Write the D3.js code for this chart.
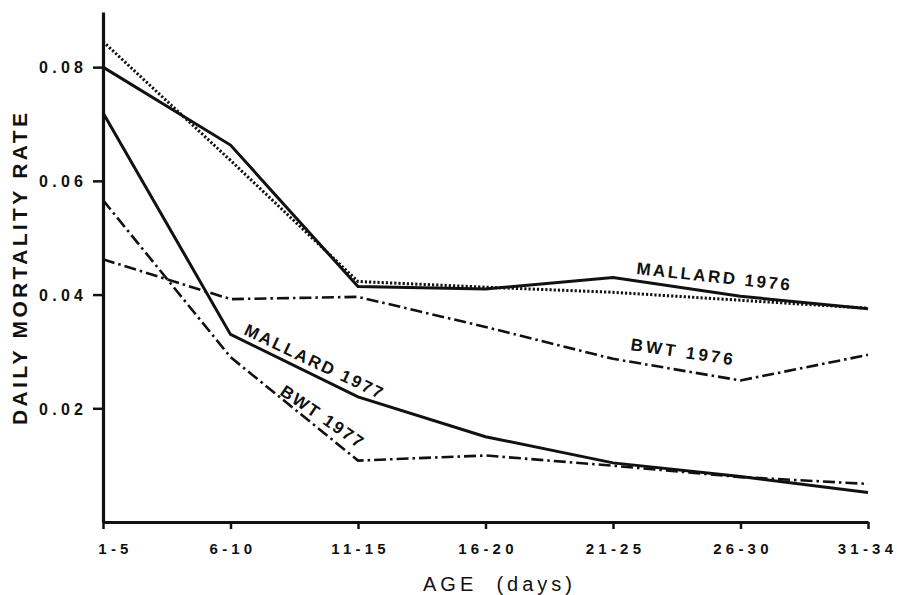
<!DOCTYPE html>
<html>
<head>
<meta charset="utf-8">
<script src="https://cdn.jsdelivr.net/npm/d3@7"></script>
<style>
  html, body { margin: 0; padding: 0; background: #fff; }
  svg { display: block; }
  text { font-family: "Liberation Sans", Arial, Helvetica, sans-serif; fill: #111; }
</style>
</head>
<body>
<svg id="chart" width="897" height="595"></svg>
<script>
// ---------- data ----------
const categories = ["1-5", "6-10", "11-15", "16-20", "21-25", "26-30", "31-34"];
const mallard1976 = [0.0800, 0.0663, 0.0414, 0.0410, 0.0430, 0.0397, 0.0375];
const mallard1976Dotted = [0.0845, 0.0636, 0.0423, 0.0413, 0.0404, 0.0390, 0.0376];
const mallard1977 = [0.0720, 0.0330, 0.0220, 0.0150, 0.0104, 0.0080, 0.0052];
const bwt1976 = [0.0462, 0.0392, 0.0396, 0.0343, 0.0287, 0.0249, 0.0294];
const bwt1977 = [0.0566, 0.0290, 0.0108, 0.0117, 0.0099, 0.0079, 0.0067];
const yTicks = [0.02, 0.04, 0.06, 0.08];
const yTitle = "DAILY MORTALITY RATE";
const xTitle = "AGE  (days)";

// ---------- layout ----------
const svg = d3.select("#chart");
const mLeft = 103, mRight = 868, mTop = 12, mBottom = 522;

const x = d3.scalePoint().domain(categories).range([mLeft, mRight]);
const y = d3.scaleLinear().domain([0, 0.0897]).range([mBottom, mTop]);

// ---------- series ----------
const series = [
  { name: "MALLARD 1976", values: mallard1976, dash: null, width: 3 },
  { name: "dotted", values: mallard1976Dotted, dash: "2.2,2", width: 3 },
  { name: "MALLARD 1977", values: mallard1977, dash: null, width: 3 },
  { name: "BWT 1976", values: bwt1976, dash: "12,4,2.5,4", width: 2.6 },
  { name: "BWT 1977", values: bwt1977, dash: "12,4,2.5,4", width: 2.6 }
];

const line = d3.line()
  .x((d, i) => x(categories[i]))
  .y(d => y(d));

svg.append("g").selectAll("path")
  .data(series)
  .join("path")
  .attr("d", d => line(d.values))
  .attr("fill", "none")
  .attr("stroke", "#111")
  .attr("stroke-width", d => d.width)
  .attr("stroke-dasharray", d => d.dash)
  .attr("stroke-linejoin", "miter");

// ---------- axes ----------
const yAxis = d3.axisLeft(y)
  .tickValues(yTicks)
  .tickFormat(d3.format(".2f"))
  .tickSize(10)
  .tickSizeOuter(0)
  .tickPadding(10);

const gy = svg.append("g").attr("transform", `translate(${mLeft},0)`).call(yAxis);
gy.select(".domain").attr("stroke", "#111").attr("stroke-width", 3.2);
gy.selectAll(".tick line").attr("stroke", "#111").attr("stroke-width", 2.5);
gy.selectAll(".tick text")
  .attr("font-size", 16)
  .attr("font-weight", "bold")
  .attr("fill", "#111")
  .attr("textLength", 44)
  .attr("lengthAdjust", "spacing")
  .attr("dy", "0.36em");

const xAxis = d3.axisBottom(x)
  .tickSize(7)
  .tickSizeOuter(0)
  .tickPadding(14);

const gx = svg.append("g").attr("transform", `translate(0,${mBottom})`).call(xAxis);
gx.select(".domain").attr("stroke", "#111").attr("stroke-width", 3.2);
gx.selectAll(".tick line").attr("stroke", "#111").attr("stroke-width", 2.5);
gx.selectAll(".tick text")
  .attr("font-size", 15)
  .attr("font-weight", "bold")
  .attr("fill", "#111")
  .attr("letter-spacing", "4.2px")
  .attr("dx", (d, i) => i === 0 ? 12 : (i === categories.length - 1 ? -1 : 2))
  .attr("dy", "0.71em");

// ---------- titles ----------
svg.append("text")
  .attr("transform", "translate(27,269) rotate(-90)")
  .attr("text-anchor", "middle")
  .attr("font-size", 21)
  .attr("font-weight", "bold")
  .attr("textLength", 312)
  .attr("lengthAdjust", "spacing")
  .text(yTitle);

svg.append("text")
  .attr("x", 497.5)
  .attr("y", 591)
  .attr("text-anchor", "middle")
  .attr("font-size", 20)
  .attr("textLength", 149)
  .attr("lengthAdjust", "spacing")
  .style("white-space", "pre")
  .text(xTitle);

// ---------- series labels ----------
const labelStyle = [
  { text: "MALLARD 1976", x: 636, y: 274, angle: 6.2, len: 154 },
  { text: "BWT 1976", x: 630, y: 350, angle: 8.4, len: 103 },
  { text: "MALLARD 1977", x: 243, y: 334, angle: 25.5, len: 151 },
  { text: "BWT 1977", x: 279, y: 394, angle: 34.4, len: 96 }
];
svg.append("g").selectAll("text")
  .data(labelStyle)
  .join("text")
  .attr("transform", d => `translate(${d.x},${d.y}) rotate(${d.angle})`)
  .attr("font-size", 17)
  .attr("font-weight", "bold")
  .attr("textLength", d => d.len)
  .attr("lengthAdjust", "spacing")
  .text(d => d.text);
</script>
</body>
</html>
